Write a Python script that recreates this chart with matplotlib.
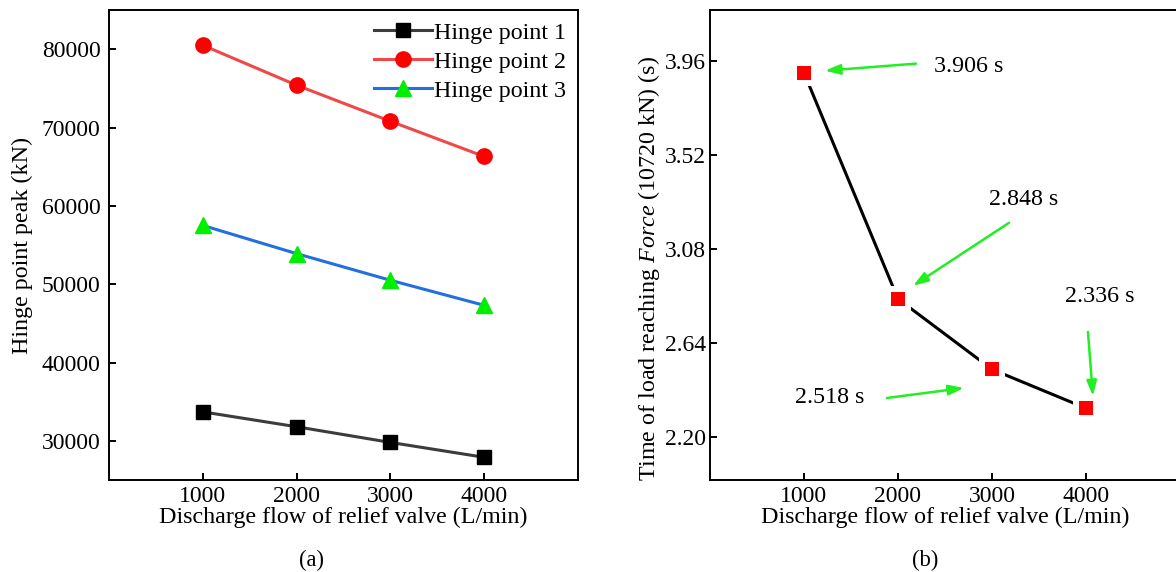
"""Relief-valve discharge flow study: hinge-point peaks (a) and time to reach load (b)."""
import matplotlib
matplotlib.use("Agg")
import matplotlib.pyplot as plt

# data
flow = [1000, 2000, 3000, 4000]  # L/min
hinge1 = [33700, 31800, 29800, 27900]
hinge2 = [80500, 75400, 70800, 66300]
hinge3 = [57500, 53900, 50500, 47300]
reach_time = [3.906, 2.848, 2.518, 2.336]  # s

x_ticks = [1000, 2000, 3000, 4000]
y_ticks_a = [30000, 40000, 50000, 60000, 70000, 80000]
y_ticks_b = [2.20, 2.64, 3.08, 3.52, 3.96]

plt.rcParams["font.family"] = ["Liberation Serif", "DejaVu Serif"]
plt.rcParams["mathtext.fontset"] = "custom"
plt.rcParams["mathtext.rm"] = "Liberation Serif"
plt.rcParams["mathtext.it"] = "Liberation Serif:italic"
FS = 17.3   # labels, legend, notes
TFS = 17    # tick labels
GREEN = "#22ee22"


def style_axes(ax, ypad):
    for s in ax.spines.values():
        s.set_linewidth(1.4)
    ax.tick_params(axis="both", direction="in", length=5, width=1.4, labelsize=TFS,
                   top=False, right=False)
    ax.tick_params(axis="y", pad=ypad)
    ax.tick_params(axis="x", pad=4)


fig = plt.figure(figsize=(11.76, 5.72), dpi=100)

# (a) hinge point peaks
ax1 = fig.add_axes([0.0927, 0.1608, 0.3988, 0.8217])
ax1.plot(flow, hinge1, color="#3c3c3c", lw=2.2, marker="s", ms=10, mfc="black", mec="black",
         label="Hinge point 1")
ax1.plot(flow, hinge2, color="#f04848", lw=2.2, marker="o", ms=11, mfc="#ff0000", mec="#ff0000",
         label="Hinge point 2")
ax1.plot(flow, hinge3, color="#2270e0", lw=2.2, marker="^", ms=12, mfc="#00ee00", mec="#00ee00",
         label="Hinge point 3")
ax1.set_xlim(0, 5000)
ax1.set_ylim(25000, 85000)
ax1.set_xticks(x_ticks)
ax1.set_yticks(y_ticks_a)
style_axes(ax1, 6)
ax1.set_xlabel("Discharge flow of relief valve (L/min)", fontsize=FS, labelpad=0)
ax1.set_ylabel("Hinge point peak (kN)", fontsize=FS)
ax1.yaxis.set_label_coords(-0.162, 0.5)
ax1.legend(loc="upper right", frameon=False, fontsize=FS, handlelength=2.4, handletextpad=0.1,
           labelspacing=0.3, borderaxespad=0.1, bbox_to_anchor=(1.0, 1.0))

# (b) time of load reaching Force
ax2 = fig.add_axes([0.6037, 0.1608, 0.3997, 0.8217])
ax2.plot(flow, reach_time, color="black", lw=2.2, zorder=2)
ax2.plot(flow, reach_time, ls="none", marker="s", ms=14.4, mfc="#ff0000", mec="white", mew=4.3,
         zorder=3)
ax2.set_xlim(0, 5000)
ax2.set_ylim(2.0, 4.2)
ax2.set_xticks(x_ticks)
ax2.set_yticks(y_ticks_b)
ax2.set_yticklabels([f"{v:.2f}" for v in y_ticks_b])
style_axes(ax2, 3)
ax2.set_xlabel("Discharge flow of relief valve (L/min)", fontsize=FS, labelpad=0)
ax2.set_ylabel(r"Time of load reaching $\mathit{Force}$ (10720 kN) (s)", fontsize=FS)
ax2.yaxis.set_label_coords(-0.102, 0.45)

arrow = dict(arrowstyle="-|>,head_length=0.9,head_width=0.3", color=GREEN, lw=1.8,
             shrinkA=0, shrinkB=0)
# (text position, arrow start, arrow end) per point
notes = [((2383, 3.935), (2191, 3.949), (1223, 3.916)),
         ((2968, 3.312), (3181, 3.204), (2160, 2.909)),
         ((910, 2.384), (1883, 2.384), (2702, 2.431)),
         ((3777, 2.857), (4021, 2.693), (4074, 2.393))]
for val, (txt, start, end) in zip(reach_time, notes):
    ax2.annotate("", xy=end, xytext=start, arrowprops=arrow)
    ax2.text(txt[0], txt[1], f"{val:.3f} s", fontsize=FS, ha="left", va="center")

fig.text(312 / 1176, 1 - 560 / 572, "(a)", fontsize=FS - 1, ha="center", va="center")
fig.text(925 / 1176, 1 - 560 / 572, "(b)", fontsize=FS - 1, ha="center", va="center")

fig.savefig("out.png", dpi=100)
